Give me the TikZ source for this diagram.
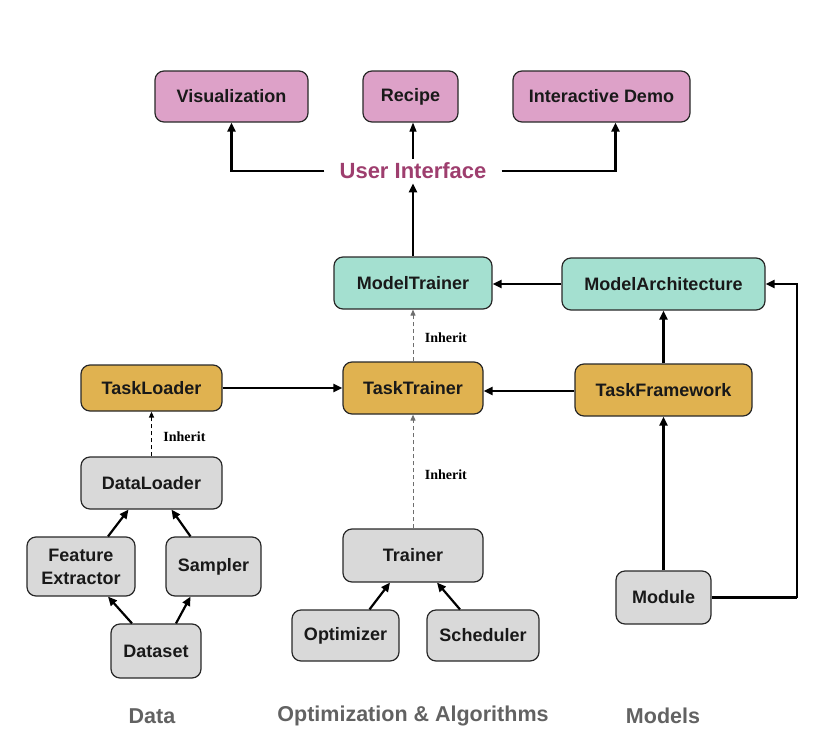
\documentclass[tikz,border=0pt]{standalone}
\usepackage{fontspec}
\setmainfont{Liberation Sans}
\newfontfamily\inhfont{Liberation Serif}
\usetikzlibrary{arrows.meta,calc}
\definecolor{pinkfill}{RGB}{221,161,200}
\definecolor{tealfill}{RGB}{164,224,208}
\definecolor{goldfill}{RGB}{224,178,80}
\definecolor{grayfill}{RGB}{217,217,217}
\definecolor{bordercol}{RGB}{40,40,40}
\definecolor{uicol}{RGB}{158,62,110}
\definecolor{labgray}{RGB}{98,98,98}
\definecolor{dashgray}{RGB}{110,110,110}
\tikzset{
  box/.style={draw=bordercol, line width=1.2pt, rounded corners=9pt, inner sep=0pt,
    align=center, font=\bfseries\fontsize{18}{23}\selectfont, text=black!90},
  pinkbox/.style={box, fill=pinkfill},
  tealbox/.style={box, fill=tealfill},
  goldbox/.style={box, fill=goldfill},
  graybox/.style={box, fill=grayfill},
  arr/.style={line width=2.2pt, -{Triangle[length=9pt,width=8pt]}},
  thinarr/.style={line width=1.2pt, -{Triangle[length=9pt,width=7pt]}},
  plainline/.style={line width=2.2pt},
  inh/.style={line width=1pt, dashed, dash pattern=on 4pt off 3pt, -{Triangle[length=6pt,width=5pt]}},
  inhlab/.style={font=\inhfont\bfseries\fontsize{14}{16}\selectfont, text=black},
  grouplab/.style={font=\bfseries\fontsize{21.5}{24}\selectfont, text=labgray}
}
\begin{document}
\begin{tikzpicture}[x=1pt,y=-1pt]
\useasboundingbox (0,0) rectangle (830,747);
% top row
\node[pinkbox, minimum width=153pt, minimum height=51pt] (vis) at (231.5,96.5) {Visualization};
\node[pinkbox, minimum width=95pt, minimum height=51pt] (rec) at (410.5,96.5) {Recipe};
\node[pinkbox, minimum width=177pt, minimum height=51pt] (demo) at (601.5,96.5) {Interactive Demo};
\node[font=\bfseries\fontsize{22}{25}\selectfont, text=uicol, inner xsep=15pt, inner ysep=4pt] (ui) at (413,171) {User Interface};
% middle
\node[tealbox, minimum width=158pt, minimum height=52pt] (mt) at (413,283) {ModelTrainer};
\node[tealbox, minimum width=203pt, minimum height=52pt] (ma) at (663.5,284) {ModelArchitecture};
\node[goldbox, minimum width=141pt, minimum height=46pt] (tl) at (151.5,388) {TaskLoader};
\node[goldbox, minimum width=140pt, minimum height=52pt] (tt) at (413,388) {TaskTrainer};
\node[goldbox, minimum width=177pt, minimum height=52pt] (tf) at (663.5,390) {TaskFramework};
% data
\node[graybox, minimum width=141pt, minimum height=52pt] (dl) at (151.5,483) {DataLoader};
\node[graybox, minimum width=108pt, minimum height=59pt] (fe) at (81,566.5) {Feature\\Extractor};
\node[graybox, minimum width=95pt, minimum height=59pt] (sa) at (213.5,566.5) {Sampler};
\node[graybox, minimum width=90pt, minimum height=54pt] (ds) at (156,651) {Dataset};
% optimization
\node[graybox, minimum width=140pt, minimum height=53pt] (tr) at (413,555.5) {Trainer};
\node[graybox, minimum width=107pt, minimum height=51pt] (opt) at (345.5,635.5) {Optimizer};
\node[graybox, minimum width=112pt, minimum height=51pt] (sch) at (483,635.5) {Scheduler};
% models
\node[graybox, minimum width=95pt, minimum height=53pt] (mod) at (663.5,597.5) {Module};
% group labels
\node[grouplab] (gdata) at (152,716) {Data};
\node[grouplab] (gopt) at (413,716) {Optimization \& Algorithms};
\node[grouplab] (gmod) at (663,716) {Models};
% UI connectors
\draw[arr] (ui.west) -| (vis.south);
\draw[arr] (ui.east) -| ([xshift=14pt]demo.south);
\draw[thinarr] (ui.north) -- (ui.north |- rec.south);
\draw[arr] (mt.north) -- (ui.south);
% model connectors
\draw[arr] (ma.west) -- (ma.west -| mt.east);
\draw[arr] (tf.north) -- (ma.south);
\draw[arr] ([yshift=-1pt]tf.west) -- ([yshift=-1pt]tf.west -| tt.east);
\draw[arr] (tl.east) -- (tt.west);
\draw[arr] (mod.north) -- (tf.south);
\coordinate (mr) at (797,597.5);
\draw[plainline] (mod.east) -- (mr);
\draw[arr] (mr) |- (ma.east);
% inherit
\draw[inh, draw=dashgray] (tt.north) -- (mt.south) node[pos=0.45, right=8pt, inhlab] {Inherit};
\draw[inh, draw=dashgray] (tr.north) -- (tt.south) node[pos=0.47, right=8pt, inhlab] {Inherit};
\draw[inh, draw=black, line width=1.3pt] (dl.north) -- (tl.south) node[pos=0.45, right=8pt, inhlab] {Inherit};
% data arrows
\draw[arr] ([xshift=-24pt]ds.north) -- ([xshift=27pt]fe.south);
\draw[arr] ([xshift=20pt]ds.north) -- ([xshift=-23pt]sa.south);
\draw[arr] ([xshift=27pt]fe.north) -- ([xshift=-23pt]dl.south);
\draw[arr] ([xshift=-23pt]sa.north) -- ([xshift=20pt]dl.south);
% optimization arrows
\draw[arr] ([xshift=24pt]opt.north) -- ([xshift=-23pt]tr.south);
\draw[arr] ([xshift=-23pt]sch.north) -- ([xshift=24pt]tr.south);
\end{tikzpicture}
\end{document}
